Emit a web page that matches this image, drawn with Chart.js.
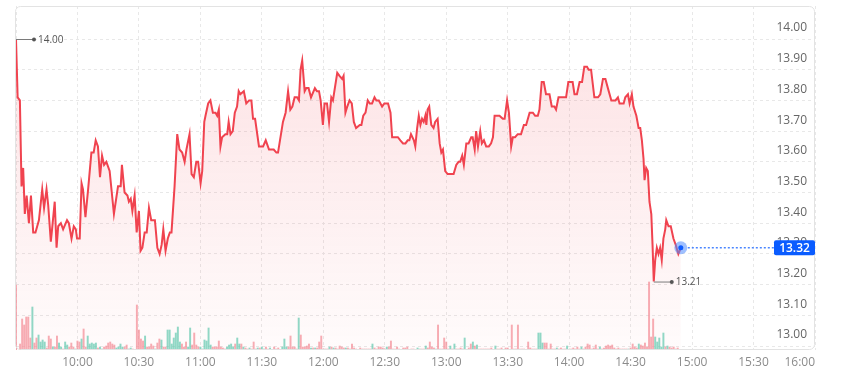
<!DOCTYPE html>
<html><head><meta charset="utf-8">
<script src="https://cdn.jsdelivr.net/npm/chart.js@4.4.1/dist/chart.umd.min.js"></script>
<style>html,body{margin:0;padding:0;background:#fff;}#wrap{width:852px;height:374px;}</style>
</head><body><div id="wrap"><canvas id="c" width="852" height="374"></canvas></div>
<script>
// minutes since 09:30
const priceMinutes = [0,0.8,1.9,2.7,3.5,4.3,5.2,6.3,7.3,8.4,9.5,11.2,12.8,13.7,14.9,15.7,17.0,17.6,18.9,19.8,20.6,21.9,23.0,24.9,25.8,27.1,28.2,29.2,29.8,31.1,32.0,32.7,33.9,35.2,36.8,37.9,38.9,40.0,41.0,42.0,43.0,44.1,45.7,47.8,49.8,51.1,51.7,53.0,54.4,55.1,
56.0,56.8,57.9,58.9,60.0,60.8,61.7,62.8,63.8,64.9,66.0,67.8,69.0,70.1,71.1,71.9,73.0,74.1,75.1,75.9,77.4,78.7,79.8,81.1,82.3,83.2,84.7,85.7,86.8,88.0,88.9,90.1,90.9,91.9,92.5,93.8,94.9,96.1,97.4,98.2,99.0,99.8,100.6,102.2,103.1,103.8,104.7,105.8,106.8,107.9,108.7,109.5,
111.2,112.4,113.8,114.9,115.7,116.7,118.6,120.6,121.9,123.5,125.8,127.1,127.9,130.3,131.6,132.8,133.9,134.9,136.0,137.2,138.1,138.9,139.7,140.9,141.7,142.8,144.0,145.9,146.9,147.9,148.7,149.8,150.6,151.8,152.8,153.9,154.7,156.8,157.9,159.2,159.9,160.8,161.7,162.8,163.9,
164.9,166.0,167.8,168.6,169.5,170.6,171.7,172.7,173.8,175.0,175.9,177.1,178.7,179.8,181.6,182.8,183.6,186.4,187.6,188.9,190.1,191.2,192.0,192.8,194.2,194.9,195.8,196.6,197.4,198.2,199.0,199.8,200.3,200.9,201.7,202.7,203.8,204.6,205.8,206.8,207.6,208.4,209.5,210.7,213.6,214.9,216.0,216.8,217.8,218.6,219.8,220.9,222.2,222.9,223.9,224.6,225.5,226.6,227.4,228.4,229.5,230.8,231.9,232.8,233.6,236.0,237.6,238.5,239.7,240.6,241.7,242.5,243.6,244.9,246.5,247.9,249.0,250.7,252.3,253.4,254.7,255.5,256.6,257.6,258.7,260.4,261.5,262.8,263.6,264.8,268.5,269.6,271.7,272.6,273.8,275.1,276.3,277.4,278.7,279.5,280.7,282.3,283.1,284.1,285.2,286.5,287.7,288.9,290.6,292.6,293.8,294.6,296.6,297.4,298.7,299.5,300.6,301.4,302.8,303.9,304.7,305.5,306.3,306.8,307.6,308.4,309.2,310.1,310.7,311.3,312.0,312.8,313.6,314.4,315.2,316.0,316.9,317.4,318.5,319.6,320.9,322.0,323.3,324.5];
const prices = [14.00,13.81,13.80,13.52,13.58,13.43,13.49,13.40,13.49,13.37,13.37,13.41,13.51,13.45,13.51,13.46,13.34,13.38,13.47,13.32,13.39,13.40,13.38,13.41,13.40,13.35,13.39,13.38,13.35,13.35,13.53,13.51,13.42,13.51,13.63,13.63,13.67,13.65,13.55,13.62,13.59,13.60,13.57,13.43,13.52,13.52,13.59,13.50,13.49,13.47,
13.48,13.44,13.49,13.37,13.44,13.31,13.32,13.37,13.37,13.45,13.41,13.41,13.32,13.30,13.33,13.38,13.31,13.35,13.37,13.37,13.52,13.69,13.64,13.63,13.60,13.64,13.69,13.56,13.55,13.60,13.60,13.53,13.57,13.73,13.75,13.79,13.80,13.76,13.76,13.75,13.77,13.65,13.68,13.69,13.69,13.73,13.69,13.70,13.76,13.78,13.83,13.82,
13.83,13.79,13.80,13.80,13.74,13.74,13.65,13.65,13.67,13.64,13.64,13.63,13.63,13.73,13.76,13.83,13.77,13.78,13.81,13.81,13.80,13.90,13.93,13.83,13.84,13.84,13.81,13.84,13.83,13.83,13.80,13.72,13.79,13.79,13.73,13.81,13.80,13.89,13.88,13.87,13.88,13.76,13.78,13.80,13.79,
13.73,13.71,13.72,13.72,13.75,13.76,13.80,13.79,13.79,13.81,13.80,13.80,13.78,13.79,13.79,13.76,13.68,13.68,13.67,13.66,13.66,13.67,13.67,13.69,13.67,13.65,13.71,13.75,13.72,13.74,13.73,13.75,13.72,13.77,13.78,13.72,13.71,13.73,13.74,13.66,13.63,13.64,13.57,13.56,13.56,13.59,13.60,13.60,13.62,13.59,13.66,13.66,13.68,13.68,13.64,13.70,13.65,13.70,13.66,13.67,13.65,13.65,13.66,13.68,13.75,13.75,13.74,13.74,13.80,13.76,13.65,13.68,13.68,13.69,13.69,13.72,13.72,13.76,13.76,13.75,13.75,13.77,13.86,13.86,13.82,13.82,13.78,13.78,13.77,13.81,13.81,13.86,13.86,13.82,13.82,13.86,13.86,13.91,13.91,13.90,13.90,13.81,13.81,13.81,13.82,13.87,13.87,13.84,13.80,13.80,13.81,13.79,13.79,13.81,13.82,13.79,13.82,13.78,13.75,13.71,13.71,13.67,13.61,13.54,13.58,13.57,13.47,13.43,13.33,13.21,13.28,13.32,13.30,13.32,13.28,13.35,13.38,13.41,13.39,13.39,13.35,13.33,13.30,13.32];

const volMinutes = [0,2,3,4,5,6,7,8,9,10,11,12,13,14,15,16,17,18,19,20,21,22,23,24,25,26,27,28,29,30,31,32,33,34,35,36,37,38,39,40,41,42,43,44,45,46,47,48,49,50,51,52,53,54,55,56,57,59,60,61,62,63,64,65,66,67,68,69,70,71,72,73,74,75,76,77,78,79,80,81,82,83,84,85,86,87,88,89,90,91,92,93,94,95,96,97,98,99,100,101,102,103,104,105,106,107,108,109,110,111,112,113,114,115,116,117,118,119,120,121,122,123,124,126,127,128,130,131,132,133,134,135,136,137,138,139,140,141,142,143,144,145,146,147,148,149,150,151,152,153,154,155,156,157,158,159,160,161,162,163,164,165,166,168,169,170,171,172,173,174,175,176,177,178,179,180,181,182,183,184,185,186,187,189,190,191,193,194,196,197,198,199,200,201,202,203,204,205,206,207,208,209,210,211,212,213,214,215,216,217,218,219,221,222,223,224,225,226,227,228,229,230,231,232,234,235,236,237,239,240,242,243,244,245,246,247,248,250,251,252,253,254,255,256,257,258,259,260,261,262,263,264,265,266,267,268,269,271,272,273,274,275,276,277,278,279,280,281,282,283,284,285,286,287,288,289,290,291,292,293,294,295,296,297,298,299,300,301,302,303,304,305,306,307,308,309,310,311,312,313,314,315,316,317,318,319,320,321,322,323];
// volume, thousand shares
const volumes = [65,6,31,25,33,33,12,43,7,12,15,8,10,8,2,14,11,3,3,14,7,3,1,8,5,3,7,3,1,9,8,11,21,3,14,6,7,6,7,2,3,1,3,4,7,8,6,5,2,3,6,3,3,5,1,2,1,45,20,11,9,14,3,3,6,4,1,7,11,10,3,3,20,20,6,12,17,23,8,6,3,8,3,22,5,17,5,3,3,1,10,9,22,5,3,3,3,9,3,2,1,3,5,6,3,6,12,6,6,3,2,1,2,1,8,1,2,2,3,1,3,1,2,3,1,2,3,11,3,3,14,3,3,1,32,15,3,3,4,6,2,2,2,2,8,14,1,1,1,3,3,2,2,1,4,3,2,2,2,1,6,2,1,2,1,1,1,1,1,6,2,1,3,3,2,1,3,3,9,1,1,3,1,2,2,3,1,1,2,1,1,1,4,2,8,3,2,1,25,1,1,12,8,1,4,1,6,1,1,2,1,12,2,6,8,4,5,1,1,1,1,1,1,2,4,1,1,2,2,2,25,1,1,25,1,1,1,8,2,1,1,1,17,17,7,7,7,1,6,1,1,2,1,2,1,1,4,1,2,1,3,1,3,1,3,6,5,1,2,5,1,3,1,2,4,5,4,5,2,1,2,1,1,1,1,1,2,6,3,2,6,5,4,7,3,68,13,31,13,8,12,3,17,3,4,3,2,3,1,2];
// 1 = up minute, 0 = down minute
const volUp = [0,0,0,0,0,0,0,1,0,0,1,1,1,1,0,0,0,1,0,0,1,1,0,1,1,0,0,0,1,0,0,1,0,0,1,1,1,1,1,0,1,1,0,0,0,0,0,0,1,1,1,1,0,0,1,1,0,0,0,0,0,1,0,0,0,0,1,0,0,1,0,0,1,1,1,1,1,1,1,0,0,0,1,1,0,0,0,0,1,1,1,1,1,1,0,0,0,0,0,0,0,1,1,1,1,0,1,1,0,1,0,0,1,0,0,0,1,0,1,1,0,0,1,0,0,0,1,1,1,0,0,0,0,0,1,0,0,0,0,0,1,0,1,0,0,0,0,0,0,1,0,1,0,0,0,0,0,1,0,0,0,0,0,0,0,0,0,0,0,1,0,0,0,0,0,0,1,0,0,0,0,0,0,0,0,0,0,0,1,1,0,0,1,0,0,0,0,1,0,0,0,0,0,0,1,0,1,0,0,0,0,1,0,0,1,0,1,0,0,0,0,0,0,0,1,0,0,0,0,0,0,0,0,0,0,0,0,0,0,0,0,0,1,1,1,0,0,0,0,0,0,1,0,0,0,0,1,0,0,0,0,0,1,0,0,0,0,0,0,0,0,1,0,0,0,0,0,0,0,0,0,0,0,0,0,1,0,0,0,0,1,0,0,0,0,0,0,0,1,1,1,1,1,0,1,0,0,0,0,0];

const xTickMinutes = [0,30,60,90,120,150,180,210,240,270,300,330,360,390];
const xTickLabels = ['9:30','10:00','10:30','11:00','11:30','12:00','12:30','13:00','13:30','14:00','14:30','15:00','15:30','16:00'];
const yTicks = [13.00,13.10,13.20,13.30,13.40,13.50,13.60,13.70,13.80,13.90,14.00];

const FONT = '"Open Sans", "Noto Sans", sans-serif';
const RED = '#f0434f';

function tag(ctx, px, py, val) {
  ctx.strokeStyle = '#7a7a7a'; ctx.lineWidth = 1; ctx.setLineDash([]);
  ctx.beginPath(); ctx.moveTo(px, py + 0.5); ctx.lineTo(px + 18, py + 0.5); ctx.stroke();
  ctx.fillStyle = '#555'; ctx.beginPath(); ctx.arc(px + 18, py + 0.5, 2, 0, Math.PI * 2); ctx.fill();
  ctx.font = '10px ' + FONT; ctx.textAlign = 'left'; ctx.textBaseline = 'middle';
  ctx.fillText(val.toFixed(2), px + 22, py + 1);
}

const overlay = {
  id: 'overlay',
  afterDatasetsDraw(chart) {
    const {ctx, chartArea: a, scales: {x, y}} = chart;
    ctx.save();
    // frame
    ctx.strokeStyle = '#e3e3e3'; ctx.lineWidth = 1; ctx.setLineDash([]);
    ctx.beginPath(); ctx.roundRect(a.left - 0.5, a.top + 0.5, a.right - a.left, a.bottom - a.top - 1, 5); ctx.stroke();
    // y labels
    ctx.font = '12px ' + FONT; ctx.fillStyle = '#666'; ctx.textAlign = 'right'; ctx.textBaseline = 'middle';
    y.ticks.forEach(t => ctx.fillText(t.value.toFixed(2), a.right - 8, y.getPixelForValue(t.value) - 11));
    // open tag and low tag
    tag(ctx, x.getPixelForValue(priceMinutes[0]), y.getPixelForValue(prices[0]), prices[0]);
    const lo = Math.min(...prices); const li = prices.indexOf(lo);
    tag(ctx, x.getPixelForValue(priceMinutes[li]), y.getPixelForValue(lo), lo);
    // last price
    const n = prices.length - 1;
    const lx = x.getPixelForValue(priceMinutes[n]), ly = y.getPixelForValue(prices[n]);
    const boxW = 41, boxH = 15, boxX = a.right - boxW;
    ctx.strokeStyle = '#4a86ff'; ctx.lineWidth = 1.5; ctx.setLineDash([2, 2]);
    ctx.beginPath(); ctx.moveTo(lx + 7, ly); ctx.lineTo(boxX, ly); ctx.stroke();
    ctx.setLineDash([]);
    ctx.fillStyle = 'rgba(80,140,255,0.55)'; ctx.beginPath(); ctx.arc(lx, ly, 6.5, 0, Math.PI * 2); ctx.fill();
    ctx.fillStyle = '#0f5cff'; ctx.beginPath(); ctx.arc(lx, ly, 2.5, 0, Math.PI * 2); ctx.fill();
    ctx.fillStyle = '#0a5cff'; ctx.beginPath(); ctx.roundRect(boxX, ly - boxH / 2, boxW, boxH, 2); ctx.fill();
    ctx.fillStyle = '#fff'; ctx.font = '600 12px ' + FONT; ctx.textAlign = 'center'; ctx.textBaseline = 'middle';
    ctx.fillText(prices[n].toFixed(2), boxX + boxW / 2, ly + 0.5);
    ctx.restore();
  }
};

const gridCol = '#e8e8e8';
new Chart(document.getElementById('c'), {
  type: 'line',
  data: {
    datasets: [
      {
        type: 'line',
        data: priceMinutes.map((m, i) => ({x: m, y: prices[i]})),
        borderColor: RED, borderWidth: 2, pointRadius: 0, tension: 0,
        fill: 'start', yAxisID: 'y', order: 1,
        backgroundColor(ctx) {
          const a = ctx.chart.chartArea; if (!a) return 'rgba(240,67,79,0.1)';
          const g = ctx.chart.ctx.createLinearGradient(0, a.top, 0, a.bottom);
          g.addColorStop(0, 'rgba(240,67,79,0.17)');
          g.addColorStop(1, 'rgba(240,67,79,0.02)');
          return g;
        }
      },
      {
        type: 'bar',
        data: volMinutes.map((m, i) => ({x: m, y: volumes[i]})),
        backgroundColor: volUp.map(u => u ? 'rgba(94,204,176,0.7)' : 'rgba(244,140,150,0.7)'),
        barThickness: 1.3, yAxisID: 'v', order: 2
      }
    ]
  },
  options: {
    responsive: false, animation: false, events: [],
    layout: {padding: {left: 16, top: 6, right: 37, bottom: 0}},
    plugins: {legend: {display: false}, tooltip: {enabled: false}},
    scales: {
      x: {
        type: 'linear', min: 0, max: 390, offset: false,
        afterBuildTicks: s => { s.ticks = xTickMinutes.map(v => ({value: v})); },
        afterFit: s => { s.height = 24; },
        grid: {color: gridCol, drawTicks: false, offset: false},
        border: {display: false, dash: [3, 3]},
        ticks: {
          align: 'inner', padding: 5, maxRotation: 0, autoSkip: false,
          color: '#8c8c8c', font: {size: 12, family: FONT},
          callback: (v) => { const i = xTickMinutes.indexOf(v); return i <= 0 ? '' : xTickLabels[i]; }
        }
      },
      y: {
        type: 'linear', position: 'right', min: 12.987, max: 14.1075,
        afterBuildTicks: s => { s.ticks = yTicks.map(v => ({value: v})); },
        afterFit: s => { s.width = 0; },
        grid: {color: gridCol, drawTicks: false},
        border: {display: false, dash: [3, 3]},
        ticks: {display: false}
      },
      v: {
        type: 'linear', display: false, min: 0, max: 344
      }
    }
  },
  plugins: [overlay]
});
</script>
</body></html>
